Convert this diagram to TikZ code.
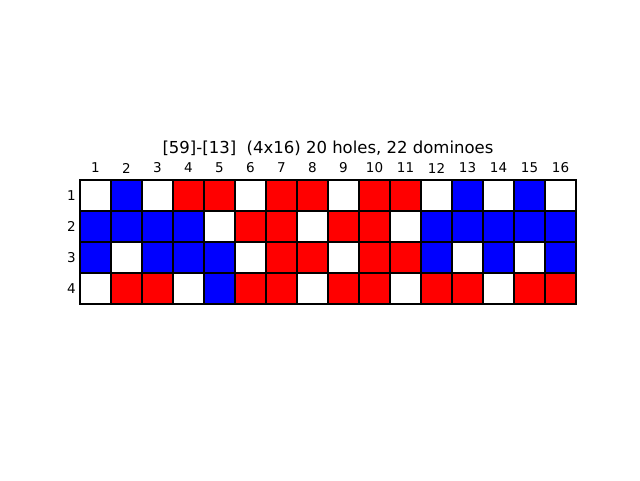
\documentclass[tikz,border=0pt]{standalone}
\usepackage{fontspec}
\setmainfont{DejaVu Sans}
\definecolor{cR}{RGB}{255,0,0}
\definecolor{cB}{RGB}{0,0,255}
\definecolor{cW}{RGB}{255,255,255}
\begin{document}
\begin{tikzpicture}[x=1pt,y=-1pt,
  cell/.style={draw=black,line width=1.4pt},
  tick/.style={font=\fontsize{13.5}{14}\selectfont,inner sep=0pt},
  ttl/.style={font=\fontsize{16.5}{18}\selectfont,inner sep=0pt}]
\useasboundingbox[fill=white] (0,0) rectangle (640,480);
\foreach \row [count=\r] in {
  {W,B,W,R,R,W,R,R,W,R,R,W,B,W,B,W},
  {B,B,B,B,W,R,R,W,R,R,W,B,B,B,B,B},
  {B,W,B,B,B,W,R,R,W,R,R,B,W,B,W,B},
  {W,R,R,W,B,R,R,W,R,R,W,R,R,W,R,R}}{
  \foreach \c [count=\k] in \row {
    \path[cell,fill=c\c] ({80+(\k-1)*31},{180+(\r-1)*31}) rectangle ++(31,31);
  }
  \node[tick,anchor=east] (r\r) at (76,{195.5+(\r-1)*31}) {\r};
}
\foreach \k in {1,...,16}{
  \node[tick] (c\k) at ({95.5+(\k-1)*31},168) {\k};
}
\node[ttl] (title) at (328,148) {[59]-[13]\ \ (4x16) 20 holes, 22 dominoes};
\end{tikzpicture}
\end{document}
